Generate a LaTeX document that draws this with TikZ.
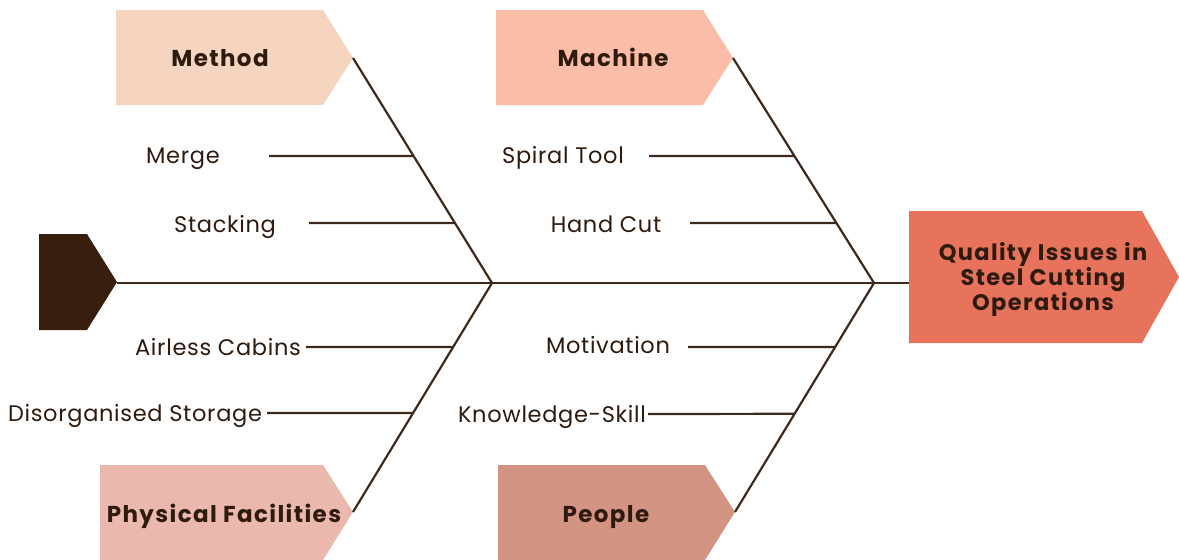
\documentclass[tikz,border=0pt]{standalone}
\usepackage{fontspec}
\setmainfont{Poppins}
\usetikzlibrary{calc}
\definecolor{cMethod}{HTML}{F5D5C0}
\definecolor{cMachine}{HTML}{FBBCA8}
\definecolor{cPhys}{HTML}{EAB8AC}
\definecolor{cPeople}{HTML}{D39484}
\definecolor{cHead}{HTML}{E8735C}
\definecolor{cTail}{HTML}{381E0C}
\definecolor{cBone}{HTML}{3D2A1D}
\definecolor{cInk}{HTML}{2E1B0E}
\tikzset{
  bone/.style={draw=cBone, line width=2.2pt},
  cause/.style={anchor=base, inner sep=0pt, text=cInk,
    font=\fontsize{22.5}{27}\selectfont\addfontfeature{LetterSpace=3}},
  cat/.style={anchor=base, inner sep=0pt, text=cInk,
    font=\fontsize{23}{27}\selectfont\bfseries\addfontfeature{LetterSpace=6}},
  headtxt/.style={inner sep=0pt, text=cInk, align=center,
    font=\fontsize{22.5}{25}\selectfont\bfseries\addfontfeature{LetterSpace=6}},
}
\begin{document}
\begin{tikzpicture}[x=1pt,y=-1pt]
\useasboundingbox (0,0) rectangle (1179,560);
\fill[white] (0,0) rectangle (1179,560);

% category arrows (pentagons)
\fill[cMethod]  (116,10) -- (323,10) -- (353,58) -- (323,105) -- (116,105) -- cycle;
\fill[cMachine] (496,10) -- (703,10) -- (733,58) -- (703,105) -- (496,105) -- cycle;
\fill[cPhys]    (100,465) -- (323,465) -- (353,512) -- (323,560) -- (100,560) -- cycle;
\fill[cPeople]  (498,465) -- (705,465) -- (735,512) -- (705,560) -- (498,560) -- cycle;
% head and tail
\fill[cHead] (909,211) -- (1142,211) -- (1179,277) -- (1142,343) -- (909,343) -- cycle;
\fill[cTail] (39,234) -- (87,234) -- (117,282) -- (87,330) -- (39,330) -- cycle;

% key points of the skeleton
\coordinate (tail) at (117,283);
\coordinate (J1) at (492,283);
\coordinate (J2) at (874,283);
\coordinate (head) at (909,283);
\coordinate (mtip) at (353,58);
\coordinate (ctip) at (733,58);
\coordinate (ptip) at (353,512);
\coordinate (etip) at (735,512);

% spine and main bones
\draw[bone] (tail) -- (J1) -- (J2) -- (head);
\draw[bone] (mtip) -- (J1) -- (ptip);
\draw[bone] (ctip) -- (J2) -- (etip);

% sub-cause branch starts
\coordinate (bMerge) at (269,156);
\coordinate (bStack) at (309,223);
\coordinate (bSpiral) at (649,156);
\coordinate (bHand) at (690,223);
\coordinate (bAir) at (306,347);
\coordinate (bDis) at (267,413);
\coordinate (bMot) at (688,347);
\coordinate (bKnow) at (648,414);

\draw[bone] (bMerge) -- ($(mtip)!0.4356!(J1)$);
\draw[bone] (bStack) -- ($(mtip)!0.7333!(J1)$);
\draw[bone] (bSpiral) -- ($(ctip)!0.4356!(J2)$);
\draw[bone] (bHand) -- ($(ctip)!0.7333!(J2)$);
\draw[bone] (bAir) -- ($(ptip)!0.7205!(J1)$);
\draw[bone] (bDis) -- ($(ptip)!0.4323!(J1)$);
\draw[bone] (bMot) -- ($(etip)!0.7206!(J2)$);
\draw[bone] (bKnow) -- ($(etip)!0.4289!(J2)$);

% category labels
\node[cat] (lMethod) at (220,66) {Method};
\node[cat] (lMachine) at (613,66) {Machine};
\node[cat] (lPhys) at (224,522) {Physical Facilities};
\node[cat] (lPeople) at (606,522) {People};
\node[headtxt] (lHead) at (1043,279) {Quality Issues in\\Steel Cutting\\Operations};

% sub-cause labels
\node[cause] (tMerge) at (183,163) {Merge};
\node[cause] (tStack) at (225,232) {Stacking};
\node[cause] (tSpiral) at (563,163) {Spiral Tool};
\node[cause] (tHand) at (606,232) {Hand Cut};
\node[cause] (tAir) at (218,355) {Airless Cabins};
\node[cause] (tDis) at (135,421) {Disorganised Storage};
\node[cause] (tMot) at (608,353) {Motivation};
\node[cause] (tKnow) at (552,422) {Knowledge-Skill};
\end{tikzpicture}
\end{document}
